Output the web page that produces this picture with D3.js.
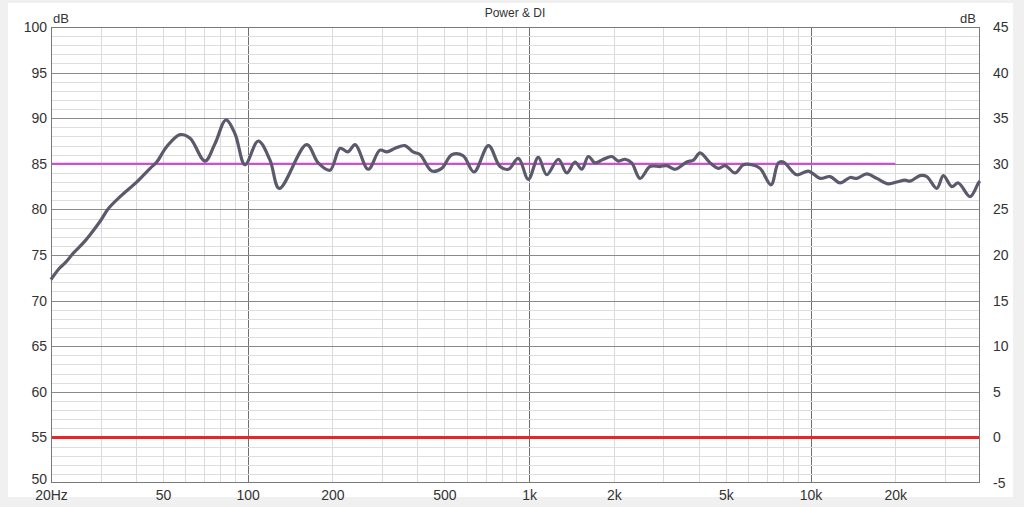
<!DOCTYPE html>
<html><head><meta charset="utf-8">
<script src="https://cdn.jsdelivr.net/npm/d3@7"></script>
<style>
html,body{margin:0;padding:0;background:#f0f0f0;}
svg{display:block;}
text{font-family:"Liberation Sans",Arial,sans-serif;fill:#333;}
</style></head><body>
<svg id="c" width="1024" height="507"></svg>
<script>
const freqs = [20,20.3,21.5,22.4,24,26,27.5,29.9,32,35.2,40.3,45,47.5,51.6,57.5,62.4,70.5,76.5,83.7,90.1,97.8,109,120,129.5,162,178,196,213,227,241,268,295,312,334,362,387,410,451,489,531,582,637,717,788,844,916,993,1078,1155,1270,1361,1456,1538,1624,1715,1836,1966,2075,2191,2315,2478,2689,2919,3083,3301,3631,3834,4050,4396,4704,4970,5393,5772,6184,6615,7237,7683,8006,8934,9825,10811,11731,12733,13817,14596,15838,17196,18901,20246,21667,22573,24500,25880,28090,29640,31750,33510,36880,39480,40000];
const powerDb = [72.3,72.6,73.6,74.1,75.2,76.3,77.2,78.7,80.1,81.4,83.0,84.5,85.2,86.9,88.2,87.8,85.3,87.2,89.8,88.3,84.9,87.5,85.4,82.3,87.1,85.1,84.3,86.7,86.3,87.1,84.4,86.5,86.3,86.7,87.0,86.3,86.0,84.2,84.5,86.0,85.9,84.1,87.0,84.7,84.4,85.6,83.3,85.7,83.8,85.5,84.0,85.2,84.4,85.8,85.1,85.5,85.8,85.3,85.5,85.1,83.4,84.7,84.7,84.8,84.4,85.2,85.4,86.2,85.1,84.5,84.8,84.0,84.9,84.9,84.5,82.7,85.1,85.2,83.8,84.2,83.4,83.6,82.9,83.5,83.4,83.9,83.4,82.8,83.0,83.2,83.1,83.7,83.6,82.3,83.7,82.5,82.9,81.4,82.9,83.1];
const refLevel = 85, refEnd = 20000;
const diLevel = 0;
const xTicks = [20,50,100,200,500,1000,2000,5000,10000,20000];
const xTickLabels = ["20Hz","50","100","200","500","1k","2k","5k","10k","20k"];
const leftTicks = [50,55,60,65,70,75,80,85,90,95,100];
const rightTicks = [-5,0,5,10,15,20,25,30,35,40,45];

const svg = d3.select("#c");
const L=51,R=980,T=27,B=483;
svg.append("rect").attr("x",8).attr("y",3).attr("width",1005).attr("height",494).attr("fill","#fff");

const x = d3.scaleLog().domain([20,40000]).range([L,R]);
const y = d3.scaleLinear().domain([50,100]).range([B,T]);
const y2 = d3.scaleLinear().domain([-5,45]).range([B,T]);

const g = svg.append("g");
const minorX = [];
[10,100,1000,10000].forEach(dec=>{for(let k=1;k<10;k++){const f=dec*k; if(f>20&&f<40000) minorX.push(f);}});
g.selectAll(".mx").data(minorX).enter().append("line")
 .attr("x1",d=>Math.round(x(d))+0.5).attr("x2",d=>Math.round(x(d))+0.5).attr("y1",T).attr("y2",B)
 .attr("stroke",d=>[100,1000,10000].includes(d)?"#707070":"#dadada").attr("stroke-width",1);
const hy = d3.range(51,100,1);
g.selectAll(".hy").data(hy).enter().append("line")
 .attr("x1",L).attr("x2",R).attr("y1",d=>Math.round(y(d))+0.5).attr("y2",d=>Math.round(y(d))+0.5)
 .attr("stroke",d=>d%5===0?"#8a8a8a":"#dedede").attr("stroke-width",1);
svg.append("rect").attr("x",L+0.5).attr("y",T+0.5).attr("width",R-L-1).attr("height",B-T-1)
 .attr("fill","none").attr("stroke","#7a7a7a");

const fmt = d=>String(d).replace("\u2212","-");
const ax = svg.append("g").attr("transform",`translate(0,${B})`)
 .call(d3.axisBottom(x).tickValues(xTicks).tickFormat((d,i)=>xTickLabels[i]).tickSize(0).tickPadding(7));
const ay = svg.append("g").attr("transform",`translate(${L},0)`)
 .call(d3.axisLeft(y).tickValues(leftTicks).tickFormat(fmt).tickSize(0).tickPadding(4));
const ay2 = svg.append("g").attr("transform",`translate(${R},0)`)
 .call(d3.axisRight(y2).tickValues(rightTicks).tickFormat(fmt).tickSize(0).tickPadding(13));
[ax,ay,ay2].forEach(a=>{a.select(".domain").remove();a.selectAll("text").style("font-size","14px").style("font-family","'Liberation Sans',Arial,sans-serif").attr("fill","#333");});
// lowest left label sits just above the baseline, as in the original
ay.selectAll(".tick").filter(d=>d===50).select("text").attr("dy","0.05em");

svg.append("text").attr("x",L+2).attr("y",23).style("font-size","13px").text("dB");
svg.append("text").attr("x",R-4).attr("y",23).attr("text-anchor","end").style("font-size","13px").text("dB");
svg.append("text").attr("x",515).attr("y",17).attr("text-anchor","middle").style("font-size","12px").text("Power & DI");

svg.append("line").attr("x1",L+1).attr("x2",R-1).attr("y1",y2(diLevel)).attr("y2",y2(diLevel))
 .attr("stroke","#e8262a").attr("stroke-width",3);
svg.append("line").attr("x1",x(20)+1).attr("x2",x(refEnd)).attr("y1",y(refLevel)).attr("y2",y(refLevel))
 .attr("stroke","#d44ad8").attr("stroke-width",2);

const data = freqs.map((f,i)=>[f,powerDb[i]]);
svg.append("path").datum(data)
 .attr("d",d3.line().x(d=>x(d[0])).y(d=>y(d[1])).curve(d3.curveCatmullRom.alpha(0.5)))
 .attr("fill","none").attr("stroke","#5a5a6c").attr("stroke-width",3.2).attr("stroke-linejoin","round");
</script></body></html>
